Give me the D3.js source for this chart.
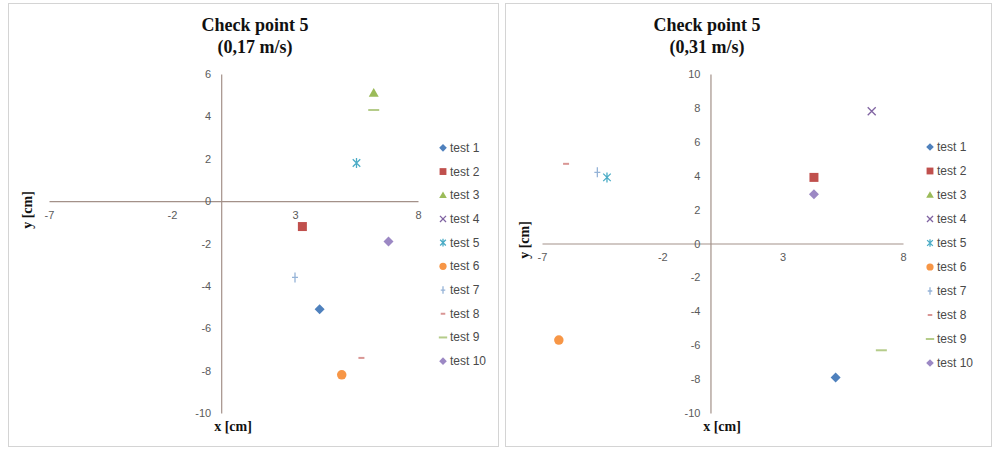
<!DOCTYPE html>
<html><head><meta charset="utf-8">
<script src="https://cdn.jsdelivr.net/npm/d3@7"></script>
<style>
html,body{margin:0;padding:0;background:#fff;}
svg{display:block;}
</style></head>
<body>
<svg id="chart" width="992" height="449"></svg>
<script>
// ---- data ----
const categories = ["test 1","test 2","test 3","test 4","test 5","test 6","test 7","test 8","test 9","test 10"];
const seriesColors = ["#4F81BD","#C0504D","#9BBB59","#8064A2","#4BACC6","#F79646","#95B3D7","#D99694","#B5CC8A","#9C88C4"];
const seriesShapes = ["diamond","square","triangle","x","star","circle","plus","dash","longdash","diamond"];

const titleLine1 = "Check point 5";
const leftSubtitle = "(0,17 m/s)";
const rightSubtitle = "(0,31 m/s)";

// left chart (0,17 m/s): x and y in cm, null = not visible
const leftX = [4.0, 3.3, 6.2, null, 5.5, 4.9, 3.0, 5.7, 6.2, 6.8];
const leftY = [-5.1, -1.2, 5.1, null, 1.8, -8.2, -3.6, -7.4, 4.3, -1.9];

// right chart (0,31 m/s)
const rightX = [5.2, 4.3, null, 6.7, -4.3, -6.3, -4.7, -6.0, 7.1, 4.3];
const rightY = [-7.9, 3.9, null, 7.8, 3.9, -5.7, 4.2, 4.7, -6.3, 2.9];

const xTicks = [-7, -2, 3, 8];
const leftYTicks = [-10, -8, -6, -4, -2, 0, 2, 4, 6];
const rightYTicks = [-10, -8, -6, -4, -2, 0, 2, 4, 6, 8, 10];

// ---- drawing ----
const svg = d3.select("#chart");
const fmt = d => String(d);

function markerPath(shape, r) {
  switch (shape) {
    case "diamond": return `M0,${-r}L${r},0L0,${r}L${-r},0Z`;
    case "square": return `M${-r*0.9},${-r*0.9}h${r*1.8}v${r*1.8}h${-r*1.8}Z`;
    case "triangle": return `M0,${-r}L${r},${r*0.75}L${-r},${r*0.75}Z`;
    case "circle": return d3.symbol(d3.symbolCircle, Math.PI * r * r * 0.9)();
    case "x": return `M${-r*0.8},${-r*0.8}L${r*0.8},${r*0.8}M${-r*0.8},${r*0.8}L${r*0.8},${-r*0.8}`;
    case "star": return `M${-r*0.75},${-r*0.75}L${r*0.75},${r*0.75}M${-r*0.75},${r*0.75}L${r*0.75},${-r*0.75}M0,${-r}L0,${r}`;
    case "plus": return `M0,${-r}L0,${r}M${-r*0.6},0L${r*0.6},0`;
    case "dash": return `M${-r*0.6},0L${r*0.6},0`;
    case "longdash": return `M${-r*1.1},0L${r*1.1},0`;
  }
}
const filled = s => ["diamond","square","triangle","circle"].includes(s);

function drawMarker(g, shape, color, x, y, r) {
  const p = g.append("path").attr("d", markerPath(shape, r))
    .attr("transform", `translate(${x},${y})`);
  if (filled(shape)) p.attr("fill", color).attr("stroke", "none");
  else p.attr("fill", "none").attr("stroke", color)
        .attr("stroke-width", (shape === "dash" || shape === "longdash") ? 2 : 1.3);
}

function drawChart(cfg) {
  const g = svg.append("g");
  g.append("rect").attr("x", cfg.panel[0] + 0.5).attr("y", cfg.panel[1] + 0.5)
    .attr("width", cfg.panel[2]).attr("height", cfg.panel[3])
    .attr("fill", "#fff").attr("stroke", "#d4d4d4");

  const x = d3.scaleLinear().domain([-7, 8]).range(cfg.xRange);
  const y = d3.scaleLinear().domain(cfg.yDomain).range(cfg.yRange);

  const xAxis = d3.axisBottom(x).tickValues(xTicks).tickSize(0).tickPadding(10).tickFormat(fmt);
  const gx = g.append("g").attr("transform", `translate(0,${y(0)})`).call(xAxis);
  gx.select(".domain").attr("stroke", "#a39189").attr("stroke-width", 1.2);
  gx.selectAll("text").attr("fill", "#5a5a5a").style("font-family", "Liberation Sans, Arial, sans-serif")
    .style("font-size", "11px");

  const yAxis = d3.axisLeft(y).tickValues(cfg.yTicks).tickSize(0).tickPadding(10).tickFormat(fmt);
  const gy = g.append("g").attr("transform", `translate(${x(0)},0)`).call(yAxis);
  gy.select(".domain").attr("stroke", "#a39189").attr("stroke-width", 1.2);
  gy.selectAll("text").attr("fill", "#5a5a5a").style("font-family", "Liberation Sans, Arial, sans-serif")
    .style("font-size", "11px");

  const tf = "Liberation Serif, Times New Roman, serif";
  g.append("text").attr("x", cfg.titleX).attr("y", 31).attr("text-anchor", "middle")
    .style("font-family", tf).style("font-weight", "bold").style("font-size", "18px")
    .attr("fill", "#111").text(titleLine1);
  g.append("text").attr("x", cfg.titleX).attr("y", 53).attr("text-anchor", "middle")
    .style("font-family", tf).style("font-weight", "bold").style("font-size", "18px")
    .attr("fill", "#111").text(cfg.subtitle);

  g.append("text").attr("x", cfg.xLabelPos[0]).attr("y", cfg.xLabelPos[1]).attr("text-anchor", "middle")
    .style("font-family", tf).style("font-weight", "bold").style("font-size", "14px")
    .attr("fill", "#111").text("x [cm]");
  g.append("text").attr("transform", `translate(${cfg.yLabelPos[0]},${cfg.yLabelPos[1]}) rotate(-90)`)
    .attr("text-anchor", "middle")
    .style("font-family", tf).style("font-weight", "bold").style("font-size", "14px")
    .attr("fill", "#111").text("y [cm]");

  const pts = g.append("g");
  categories.forEach((c, i) => {
    if (cfg.xs[i] == null || cfg.ys[i] == null) return;
    drawMarker(pts, seriesShapes[i], seriesColors[i], x(cfg.xs[i]), y(cfg.ys[i]), 5);
  });

  const lg = g.append("g");
  const ly = d3.scaleBand().domain(categories).range(cfg.legendY);
  categories.forEach((c, i) => {
    const yy = ly(c) + ly.bandwidth() / 2;
    drawMarker(lg, seriesShapes[i], seriesColors[i], cfg.legendX, yy, 3.8);
    lg.append("text").attr("x", cfg.legendX + 7).attr("y", yy + 4)
      .style("font-family", "Liberation Sans, Arial, sans-serif").style("font-size", "12px")
      .attr("fill", "#4a4a4a").text(c);
  });
}

drawChart({
  panel: [8, 3, 490, 443],
  xRange: [49, 418], yDomain: [-10, 6], yRange: [413, 74], yTicks: leftYTicks,
  titleX: 255, subtitle: leftSubtitle,
  xLabelPos: [233, 431], yLabelPos: [32, 210],
  xs: leftX, ys: leftY,
  legendX: 443, legendY: [136, 373]
});
drawChart({
  panel: [505, 3, 486, 443],
  xRange: [542, 903], yDomain: [-10, 10], yRange: [413, 74], yTicks: rightYTicks,
  titleX: 707, subtitle: rightSubtitle,
  xLabelPos: [722, 431], yLabelPos: [529, 240],
  xs: rightX, ys: rightY,
  legendX: 930, legendY: [135, 375]
});
</script>
</body></html>
